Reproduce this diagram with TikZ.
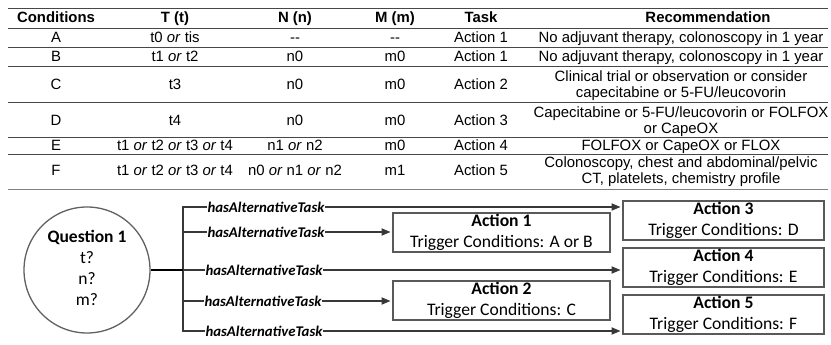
\documentclass[tikz,border=0pt]{standalone}
\usepackage{fontspec}
\setmainfont{Liberation Sans}
\newfontfamily\calfont{Carlito}
\usetikzlibrary{arrows.meta}
\begin{document}
\begin{tikzpicture}[x=1pt,y=-1pt,
  tcell/.style={font=\fontsize{14.9}{16.5}\selectfont, inner sep=0pt, anchor=base},
  thead/.style={font=\fontsize{14.9}{16.5}\selectfont\bfseries, inner sep=0pt, anchor=base},
  trule/.style={draw=black!72, line width=0.9pt},
  brule/.style={draw=black!50, line width=1.4pt},
  actbox/.style={draw=black!65, line width=1.8pt, fill=white, align=center,
    font=\fontsize{17.6}{21}\selectfont\calfont, inner sep=0pt, minimum height=39pt},
  lbl/.style={font=\fontsize{14.8}{16}\selectfont\calfont\bfseries\itshape, fill=white, inner sep=0.8pt},
  branch/.style={draw=black!78, line width=1.7pt},
  arr/.style={branch, -{Triangle[length=9pt,width=7pt]}, shorten >=1.5pt}
]
\useasboundingbox (0,0) rectangle (831,345);
\newcommand{\orx}{\textit{or}}
% ---------- table rules ----------
\draw[trule] (8,8) -- (828,8);
\draw[trule] (8,28) -- (828,28);
\draw[trule] (8,47) -- (828,47);
\draw[trule] (8,66) -- (828,66);
\draw[trule] (8,102) -- (828,102);
\draw[trule] (8,137) -- (828,137);
\draw[trule] (8,154) -- (828,154);
\draw[brule] (8,189.5) -- (828,189.5);
% ---------- header ----------
\node[thead] (hC) at (56,22.3) {Conditions};
\node[thead] (hT) at (175,22.3) {T (t)};
\node[thead] (hN) at (295,22.3) {N (n)};
\node[thead] (hM) at (395,22.3) {M (m)};
\node[thead] (hK) at (481,22.3) {Task};
\node[thead] (hR) at (708,22.3) {Recommendation};
% ---------- row A ----------
\node[tcell] (aC) at (56,42.6) {A};
\node[tcell] (aT) at (175,42.6) {t0 \orx{} tis};
\node[tcell] (aN) at (295,42.6) {-{}-};
\node[tcell] (aM) at (395,42.6) {-{}-};
\node[tcell] (aK) at (481,42.6) {Action 1};
\node[tcell] (aR) at (681,42.6) {No adjuvant therapy, colonoscopy in 1 year};
% ---------- row B ----------
\node[tcell] (bC) at (56,61.8) {B};
\node[tcell] (bT) at (175,61.8) {t1 \orx{} t2};
\node[tcell] (bN) at (295,61.8) {n0};
\node[tcell] (bM) at (395,61.8) {m0};
\node[tcell] (bK) at (481,61.8) {Action 1};
\node[tcell] (bR) at (681,61.8) {No adjuvant therapy, colonoscopy in 1 year};
% ---------- row C ----------
\node[tcell] (cC) at (56,89.3) {C};
\node[tcell] (cT) at (175,89.3) {t3};
\node[tcell] (cN) at (295,89.3) {n0};
\node[tcell] (cM) at (395,89.3) {m0};
\node[tcell] (cK) at (481,89.3) {Action 2};
\node[tcell] (cR1) at (681,81.3) {Clinical trial or observation or consider};
\node[tcell] (cR2) at (681,97.3) {capecitabine or 5-FU/leucovorin};
% ---------- row D ----------
\node[tcell] (dC) at (56,125) {D};
\node[tcell] (dT) at (175,125) {t4};
\node[tcell] (dN) at (295,125) {n0};
\node[tcell] (dM) at (395,125) {m0};
\node[tcell] (dK) at (481,125) {Action 3};
\node[tcell] (dR1) at (681,117.3) {Capecitabine or 5-FU/leucovorin or FOLFOX};
\node[tcell] (dR2) at (681,133.3) {or CapeOX};
% ---------- row E ----------
\node[tcell] (eC) at (56,150.8) {E};
\node[tcell] (eT) at (175,150.8) {t1 \orx{} t2 \orx{} t3 \orx{} t4};
\node[tcell] (eN) at (295,150.8) {n1 \orx{} n2};
\node[tcell] (eM) at (395,150.8) {m0};
\node[tcell] (eK) at (481,150.8) {Action 4};
\node[tcell] (eR) at (681,150.8) {FOLFOX or CapeOX or FLOX};
% ---------- row F ----------
\node[tcell] (fC) at (56,175.5) {F};
\node[tcell] (fT) at (175,175.5) {t1 \orx{} t2 \orx{} t3 \orx{} t4};
\node[tcell] (fN) at (295,175.5) {n0 \orx{} n1 \orx{} n2};
\node[tcell] (fM) at (395,175.5) {m1};
\node[tcell] (fK) at (481,175.5) {Action 5};
\node[tcell] (fR1) at (681,167.5) {Colonoscopy, chest and abdominal/pelvic};
\node[tcell] (fR2) at (681,183.5) {CT, platelets, chemistry profile};
% ---------- diagram ----------
\node[circle, draw=black!62, line width=1.3pt, minimum size=126pt, inner sep=0pt] (Q) at (87,270) {};
\node[align=center, inner sep=0pt, font=\fontsize{17.5}{21}\selectfont\calfont] (QT) at (87,268)
  {\textbf{Question 1}\\t?\\n?\\m?};
\node[actbox, minimum width=217pt] (A1) at (501.5,232.5) {\textbf{Action 1}\\Trigger Conditions: A or B};
\node[actbox, minimum width=217pt] (A2) at (501.5,300.5) {\textbf{Action 2}\\Trigger Conditions: C};
\node[actbox, minimum width=201pt] (A3) at (723.5,220.5) {\textbf{Action 3}\\Trigger Conditions: D};
\node[actbox, minimum width=201pt] (A4) at (723.5,267.5) {\textbf{Action 4}\\Trigger Conditions: E};
\node[actbox, minimum width=201pt] (A5) at (723.5,314.5) {\textbf{Action 5}\\Trigger Conditions: F};
\coordinate (t1) at (183,207);
\coordinate (t2) at (183,232);
\coordinate (t3) at (183,270);
\coordinate (t4) at (183,301);
\coordinate (t5) at (183,331);
\draw[branch, line cap=rect] (t1) -- (t5);
\draw[draw=black, line width=2pt] (Q.east) -- (t3);
\draw[arr] (t1) -- (t1 -| A3.west);
\draw[arr] (t2) -- (t2 -| A1.west);
\draw[arr] (t3) -- (t3 -| A4.west);
\draw[arr] (t4) -- (t4 -| A2.west);
\draw[arr] (t5) -- (t5 -| A5.west);
\node[lbl] (L1) at (266,207) {hasAlternativeTask};
\node[lbl] (L2) at (266,232) {hasAlternativeTask};
\node[lbl] (L3) at (264,270) {hasAlternativeTask};
\node[lbl] (L4) at (263,301) {hasAlternativeTask};
\node[lbl] (L5) at (264,331) {hasAlternativeTask};
\end{tikzpicture}
\end{document}
